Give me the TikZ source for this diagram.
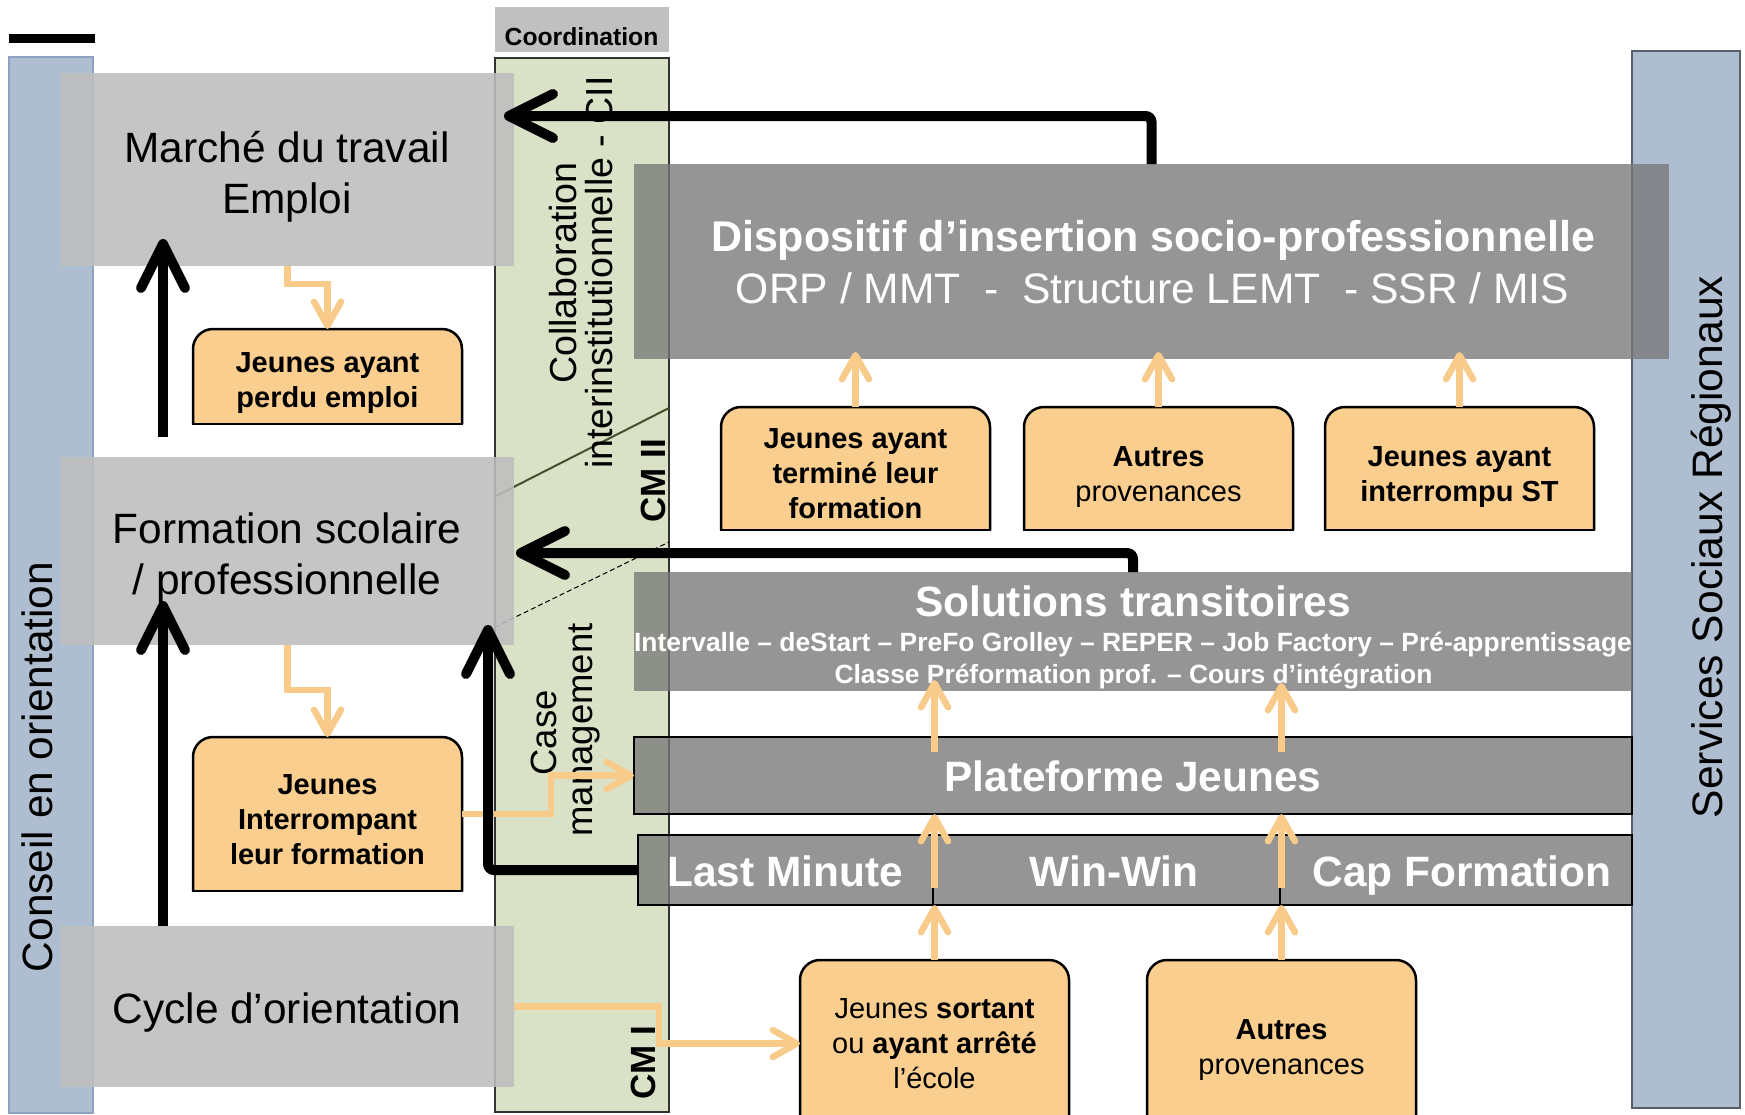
\documentclass[tikz,border=0pt]{standalone}
\usepackage{fontspec}
\setmainfont{Liberation Sans}
\usetikzlibrary{arrows.meta,calc}
\pgfdeclarelayer{bgl}
\pgfsetlayers{bgl,main}
\definecolor{colblue}{RGB}{174,190,208}
\definecolor{colblueb}{RGB}{140,162,192}
\definecolor{colbluedk}{RGB}{85,95,110}
\definecolor{colgreen}{RGB}{217,225,199}
\definecolor{lgray}{RGB}{190,190,190}
\definecolor{dgray}{RGB}{120,120,120}
\definecolor{coordgray}{RGB}{192,192,192}
\definecolor{ofill}{RGB}{250,206,143}
\definecolor{oarrow}{RGB}{249,203,139}
\definecolor{olive}{RGB}{70,80,45}
\newcommand\sth[1]{\rule{0pt}{#1pt}}
\tikzset{
  every node/.style={inner sep=0pt, outer sep=0pt},
  pane/.style={rectangle, inner sep=0pt, outer sep=0pt},
  lbox/.style={pane, fill=lgray, fill opacity=0.88},
  dbox/.style={pane, fill=dgray, fill opacity=0.78},
  dboxb/.style={dbox, draw=black, line width=1.5pt},
  txt/.style={anchor=base, inner sep=0pt},
  bigr/.style={txt, font=\fontsize{42.4}{48}\selectfont},
  whiteb/.style={txt, text=white, font=\fontsize{42.4}{48}\selectfont\bfseries},
  smallb/.style={txt, text=white, font=\fontsize{26.4}{31}\selectfont\bfseries},
  rot/.style={anchor=base, rotate=90, inner sep=0pt},
  obox/.style={pane, align=center, minimum width=269pt, font=\fontsize{29}{35}\selectfont},
  oboxb/.style={obox, font=\fontsize{29}{35}\selectfont\bfseries},
  barrow/.style={draw=black, line width=10pt, rounded corners=6pt,
    -{Straight Barb[round, length=44pt, width=44pt]}},
  oarr/.style={draw=oarrow, line width=6.5pt,
    -{Straight Barb[round, length=24pt, width=27pt]}},
}
\begin{document}
\begin{tikzpicture}[x=1pt,y=-1pt]
\begin{pgfonlayer}{bgl}
  \fill[white] (0,0) rectangle (1745,1114);
\end{pgfonlayer}
\useasboundingbox (0,0) rectangle (1745,1114);
\coordinate (bot) at (0,1117);

% top-left bar
\fill[black] (9,34) rectangle (95,43);

% columns
\node[pane, fill=colblue, draw=colblueb, line width=1.2pt, minimum width=84pt, minimum height=1056pt] (cons) at (51,585) {};
\node[pane, fill=coordgray, minimum width=174pt, minimum height=45pt] (coord) at (582,29.5) {};
\node[pane, fill=colgreen, draw=black!80, line width=1.2pt, minimum width=174pt, minimum height=1054pt] (green) at (582,585) {};
\node[pane, fill=colblue, draw=colbluedk, line width=1.2pt, minimum width=108pt, minimum height=1057pt] (serv) at (1686,579.5) {};

% separators in the coordination column
\draw[olive, line width=2pt] (495,496.5) -- (669,408);
\draw[black, line width=1pt, dash pattern=on 5pt off 3pt] (495,627) -- (669,542);

% column texts
\node[txt, font=\fontsize{24.7}{28}\selectfont\bfseries] (coordT) at (581.5,45.5) {Coordination};
\node[rot, font=\fontsize{42.4}{48}\selectfont] (consT) at (52,767) {Conseil en orientation};
\node[rot, font=\fontsize{42.6}{48}\selectfont] (servT) at (1722,547) {Services Sociaux Régionaux};
\node[rot, font=\fontsize{37.6}{42}\selectfont] (colT1) at (576,273) {Collaboration};
\node[rot, font=\fontsize{37.6}{42}\selectfont] (colT2) at (612,272.5) {interinstitutionnelle - CII};
\node[rot, font=\fontsize{35}{40}\selectfont\bfseries] (cm2) at (665,481) {CM II};
\node[rot, font=\fontsize{36.5}{40}\selectfont] (caseT1) at (556,733) {Case};
\node[rot, font=\fontsize{36.5}{40}\selectfont] (caseT2) at (592,730) {management};
\node[rot, font=\fontsize{35}{40}\selectfont\bfseries] (cm1) at (655,1063) {CM I};

% light gray boxes
\node[lbox, minimum width=453pt, minimum height=193pt] (mar) at (287.5,169.5) {};
\node[lbox, minimum width=453pt, minimum height=188pt] (form) at (287.5,551) {};
\node[lbox, minimum width=453pt, minimum height=161pt] (cyc) at (287.5,1006.5) {};
\node[bigr] (marT1) at (287,162) {Marché du travail};
\node[bigr] (marT2) at (287,213) {Emploi};
\node[bigr] (formT1) at (287,543) {Formation scolaire};
\node[bigr] (formT2) at (287,594) {/ professionnelle};
\node[bigr] (cycT) at (287,1023) {Cycle d’orientation};

% dark boxes
\node[dbox, minimum width=1035pt, minimum height=195pt] (disp) at (1151.5,261.5) {};
\node[dbox, minimum width=998pt, minimum height=119pt] (sol) at (1133,631.5) {};
\node[dboxb, minimum width=998pt, minimum height=77pt] (plat) at (1133,775.5) {};
\node[dboxb, minimum width=295pt, minimum height=70pt] (lm) at (785.5,870) {};
\node[dboxb, minimum width=347pt, minimum height=70pt] (ww) at (1106.5,870) {};
\node[dboxb, minimum width=352pt, minimum height=70pt] (cf) at (1456,870) {};
\node[txt, text=white, font=\fontsize{43}{48}\selectfont\bfseries] (dispT1) at (1153,251) {Dispositif d’insertion socio-professionnelle};
\node[txt, text=white, font=\fontsize{42.6}{48}\selectfont] (dispT2) at (1152.5,303) {ORP / MMT~~-~~Structure LEMT~~- SSR / MIS};
\node[whiteb] (solT1) at (1133,616) {Solutions transitoires};
\node[smallb] (solT2) at (1133,651) {Intervalle – deStart – PreFo Grolley – REPER – Job Factory – Pré-apprentissage};
\node[smallb] (solT3) at (1133.5,683) {Classe Préformation prof. – Cours d’intégration};
\node[whiteb] (platT) at (1133,791) {Plateforme Jeunes};
\node[whiteb] (lmT) at (785,886) {Last Minute};
\node[whiteb] (wwT) at (1114,886) {Win-Win};
\node[whiteb] (cfT) at (1462,886) {Cap Formation};

% orange boxes
\node[oboxb, minimum height=95pt] (jpe) at (327.5,376.5) {\sth{34}Jeunes ayant\\perdu emploi};
\node[oboxb, minimum height=154pt] (jint) at (327.5,814) {\sth{32}Jeunes\\Interrompant\\leur formation};
\node[oboxb, minimum height=123pt] (jterm) at (855.5,468.5) {\sth{30}Jeunes ayant\\terminé leur\\formation};
\node[obox, minimum height=123pt] (aut1) at (1158.5,468.5) {\sth{37}\textbf{Autres}\\provenances};
\node[oboxb, minimum height=123pt] (jst) at (1459.5,468.5) {\sth{37}Jeunes ayant\\interrompu ST};
\node[obox, minimum height=167pt] (jso) at (934.5,1043.5) {Jeunes \textbf{sortant}\\ou \textbf{ayant arrêté}\\l’école};
\node[obox, minimum height=167pt] (aut2) at (1281.5,1043.5) {\sth{32}\textbf{Autres}\\provenances};
\begin{pgfonlayer}{bgl}
  \foreach \n in {jpe,jint,jterm,aut1,jst}{
    \path[fill=ofill, draw=black, line width=2.5pt, rounded corners=20pt]
      (\n.south east) -- (\n.north east) -- (\n.north west) -- (\n.south west);
    \draw[black, line width=2.5pt, line cap=rect] (\n.south west) -- (\n.south east);
  }
  \foreach \n in {jso,aut2}{
    \path[fill=ofill, draw=black, line width=2.5pt, rounded corners=20pt]
      (\n.east |- bot) -- (\n.north east) -- (\n.north west) -- (\n.west |- bot);
  }
\end{pgfonlayer}

% orange connectors
\draw[oarr] (mar.south) -- ++(0,18) -| (jpe.north);
\draw[oarr] (form.south) -- ++(0,45) -| (jint.north);
\draw[oarr] (jint.east) -- ++(89,0) |- (plat.west);
\draw[oarr] (cyc.east) -- ++(145,0) |- (jso.west);
\draw[oarr] (jterm.north) -- ($(jterm.north |- disp.south)+(0,-7)$);
\draw[oarr] (aut1.north) -- ($(aut1.north |- disp.south)+(0,-7)$);
\draw[oarr] (jst.north) -- ($(jst.north |- disp.south)+(0,-7)$);
\draw[oarr] (jso.north) -- (jso.north |- lm.south);
\draw[oarr] ($(jso.north |- lm.south)+(0,-17)$) -- (jso.north |- plat.south);
\draw[oarr] ($(jso.north |- plat.north)+(0,15)$) -- ($(jso.north |- sol.south)+(0,-11)$);
\draw[oarr] (aut2.north) -- (aut2.north |- cf.south);
\draw[oarr] ($(aut2.north |- cf.south)+(0,-17)$) -- (aut2.north |- plat.south);
\draw[oarr] ($(aut2.north |- plat.north)+(0,15)$) -- ($(aut2.north |- sol.south)+(0,-8)$);

% black connectors
\draw[barrow] (disp.north) |- ($(mar.north east)+(-10,43)$);
\draw[barrow] (sol.north) |- ($(form.north east)+(2,96)$);
\draw[barrow] (lm.west) -| ($(form.south east)+(-26,-20)$);
\draw[barrow] ($(form.north west)+(102,-20)$) -- ($(mar.south west)+(102,-27)$);
\draw[barrow] ($(cyc.north west)+(102,0)$) -- ($(form.south west)+(102,-44)$);
\end{tikzpicture}
\end{document}
